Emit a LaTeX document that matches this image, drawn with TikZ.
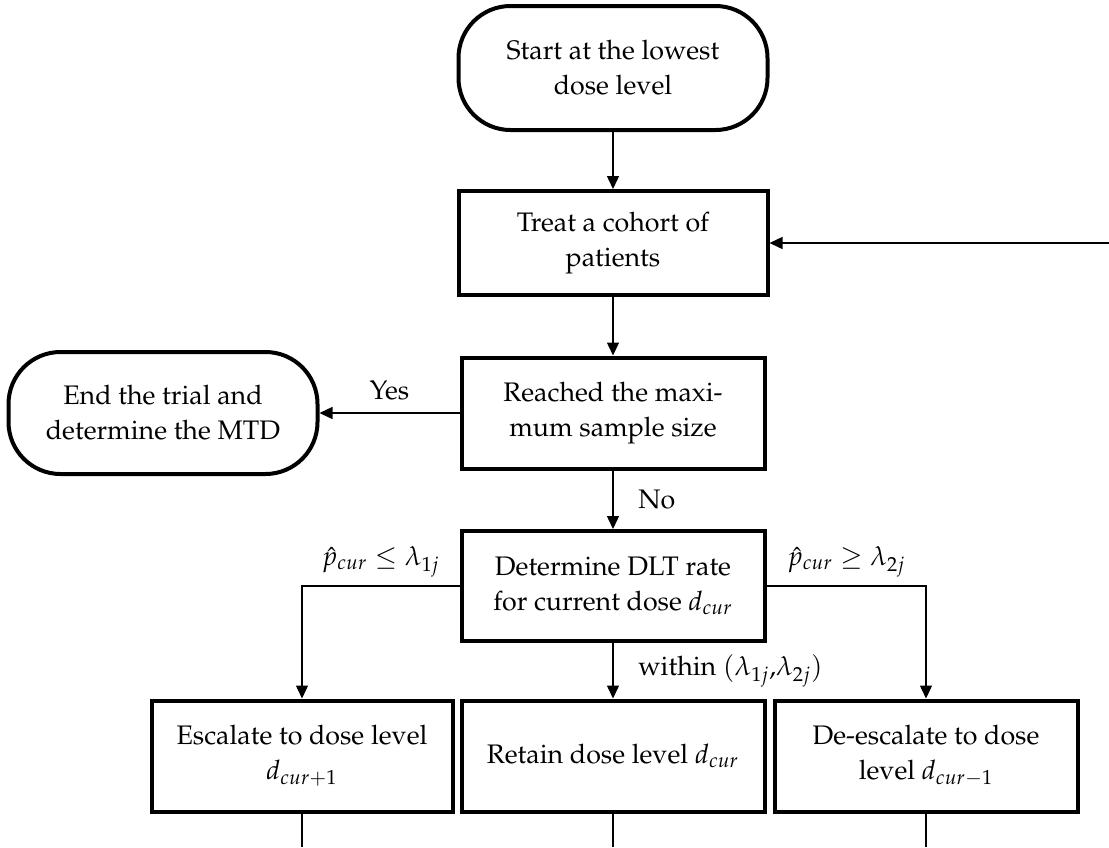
\documentclass[tikz,border=0pt]{standalone}
\usepackage[T1]{fontenc}
\usepackage{mathpazo}
\usetikzlibrary{arrows.meta}

\tikzset{
	box/.style={draw, line width=2pt, minimum width=151.5pt, minimum height=55pt, align=center, inner sep=2pt},
	term/.style={box, rounded corners=26pt, minimum width=154.5pt},
	conn/.style={line width=0.7pt, -{Triangle[length=6.5pt,width=6pt]}},
	wire/.style={line width=0.7pt}
}

\begin{document}
\begin{tikzpicture}[x=0.5pt, y=-0.5pt, font=\fontsize{13.4}{17.5}\selectfont]
		\useasboundingbox (0,0) rectangle (1109,847);

		% main column
		\node[term, minimum height=62pt] (start) at (613,68) {Start at the lowest\\dose level};
		\node[box, minimum width=154.5pt, minimum height=52pt] (treat) at (613,243) {Treat a cohort of\\patients};
		\node[box, minimum height=55.5pt] (reached) at (613,413) {Reached the maxi-\\mum sample size};
		\node[box] (determine) at (613,586) {Determine DLT rate\\for current dose $d_{cur}$};
		\node[term, minimum height=61pt] (end) at (163,413) {End the trial and\\determine the MTD};

		% outcomes
		\node[box, minimum width=150.5pt, minimum height=55.5pt] (escalate) at (302,756) {Escalate to dose level\\$d_{cur+1}$};
		\node[box, minimum height=55.5pt] (retain) at (613,756) {Retain dose level $d_{cur}$};
		\node[box, minimum height=55.5pt] (deescalate) at (926,756) {De-escalate to dose\\level $d_{cur-1}$};

		\coordinate (back) at (1109,243);
		\coordinate (out1) at (302,847);
		\coordinate (out2) at (613,847);
		\coordinate (out3) at (926,847);

		\draw[conn] (start) -- (treat);
		\draw[conn] (treat) -- (reached);
		\draw[conn] (reached) -- node[above=3pt] {Yes} (end);
		\draw[conn] (reached) -- node[right=9pt] {No} (determine);
		\draw[conn] (determine.west) -| node[pos=0.25, above=1pt] {$\hat{p}_{cur} \le \lambda_{1j}$} (escalate);
		\draw[conn] (determine.east) -| node[pos=0.25, above=1pt] {$\hat{p}_{cur} \ge \lambda_{2j}$} (deescalate);
		\draw[conn] (determine) -- node[right=9pt] {within $(\lambda_{1j}{,}\lambda_{2j})$} (retain);
		\draw[conn] (back) -- (treat);

		\draw[wire] (escalate) -- (out1);
		\draw[wire] (retain) -- (out2);
		\draw[wire] (deescalate) -- (out3);
	\end{tikzpicture}
\end{document}
